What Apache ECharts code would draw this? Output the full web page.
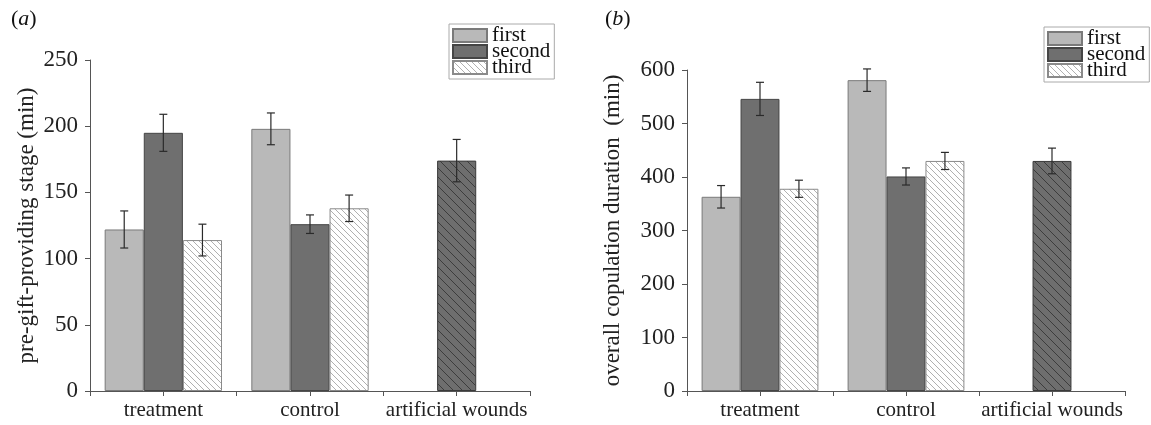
<!DOCTYPE html>
<html><head><meta charset="utf-8">
<script src="https://cdn.jsdelivr.net/npm/echarts@6/dist/echarts.min.js"></script>
<style>html,body{margin:0;padding:0;background:#fff}#c{width:1151px;height:425px}</style>
</head><body><div id="c"></div>
<script>
const categories = ['treatment', 'control', 'artificial wounds'];
const tickSlots = ['s0', 's1', 's2', 's3', 's4', 's5'];
const seriesNames = ['first', 'second', 'third'];
// panel (a): pre-gift-providing stage (min)
const aFirst = [122, 198, null];
const aSecond = [195, 126, 174];
const aThird = [114, 138, null];
const aFirstErr = [14, 12, null];
const aSecondErr = [14, 7, 16];
const aThirdErr = [12, 10, null];
// panel (b): overall copulation duration (min)
const bFirst = [363, 581, null];
const bSecond = [546, 401, 430];
const bThird = [378, 430, null];
const bFirstErr = [21, 21, null];
const bSecondErr = [31, 16, 24];
const bThirdErr = [16, 16, null];
const aTicks = [0, 250, 50];
const bTicks = [0, 600, 100];

const FONT = 'Liberation Serif';
function hatch(size, bg, fg, lw) {
  const cv = document.createElement('canvas');
  cv.width = size; cv.height = size;
  const g = cv.getContext('2d');
  g.fillStyle = bg; g.fillRect(0, 0, size, size);
  g.strokeStyle = fg; g.lineWidth = lw;
  for (const k of [-size, 0, size]) {
    g.beginPath(); g.moveTo(k, 0); g.lineTo(k + size, size); g.stroke();
  }
  return { image: cv, repeat: 'repeat' };
}
const lightHatch = hatch(6, '#ffffff', '#b0b0b0', 1);
const darkHatch = hatch(9, '#6e6e6e', '#3c3c3c', 1);

const styles = [
  { color: '#b9b9b9', borderColor: '#7a7a7a', borderWidth: 1 },
  { color: '#6f6f6f', borderColor: '#454545', borderWidth: 1 },
  { color: lightHatch, borderColor: '#8a8a8a', borderWidth: 1 }
];

function errData(vals, errs, s) {
  const out = [];
  vals.forEach((v, i) => { if (v != null && errs[i] != null) out.push([i, v - errs[i], v + errs[i], s]); });
  return out;
}
function renderErr(params, api) {
  const c = api.value(0), lo = api.value(1), hi = api.value(2), s = api.value(3);
  const band = api.size([1, 0])[0];
  const bw = band * 0.8 / 3;
  const x = api.coord([c, 0])[0] + (s - 1) * bw;
  const y1 = api.coord([c, lo])[1], y2 = api.coord([c, hi])[1];
  const st = { stroke: '#2a2a2a', lineWidth: 1.2 };
  const cap = 4;
  return { type: 'group', children: [
    { type: 'line', shape: { x1: x, y1: y1, x2: x, y2: y2 }, style: st },
    { type: 'line', shape: { x1: x - cap, y1: y1, x2: x + cap, y2: y1 }, style: st },
    { type: 'line', shape: { x1: x - cap, y1: y2, x2: x + cap, y2: y2 }, style: st }
  ]};
}
function panelSeries(gi, first, second, third, e1, e2, e3) {
  const secondData = second.map((v, i) => (i === 2 && v != null) ?
    { value: v, itemStyle: { color: darkHatch, borderColor: '#3a3a3a', borderWidth: 1 } } : v);
  const base = { type: 'bar', xAxisIndex: gi, yAxisIndex: gi, barGap: '0%', barCategoryGap: '20%' };
  return [
    Object.assign({}, base, { name: 'first', data: first, itemStyle: styles[0] }),
    Object.assign({}, base, { name: 'second', data: secondData, itemStyle: styles[1] }),
    Object.assign({}, base, { name: 'third', data: third, itemStyle: styles[2] }),
    { type: 'custom', xAxisIndex: gi, yAxisIndex: gi, renderItem: renderErr, z: 5,
      encode: { x: 0, y: [1, 2] },
      data: errData(first, e1, 0).concat(errData(second, e2, 1), errData(third, e3, 2)) },
    { type: 'line', xAxisIndex: gi + 2, yAxisIndex: gi, data: tickSlots.map(() => null), silent: true, symbol: 'none' }
  ];
}
const axisLineStyle = { color: '#555', width: 1 };
const labelStyle = { fontFamily: FONT, fontSize: 21, color: '#222' };
function xMain(gi) {
  return { type: 'category', gridIndex: gi, data: categories, boundaryGap: true, position: 'bottom',
    axisLine: { lineStyle: axisLineStyle },
    axisTick: { show: true, alignWithLabel: true, interval: 0, length: 5, lineStyle: axisLineStyle },
    axisLabel: Object.assign({ margin: 9, interval: 0 }, labelStyle) };
}
function xTicks(gi) {
  return { type: 'category', gridIndex: gi, data: tickSlots, boundaryGap: true, position: 'bottom', offset: 0,
    axisLine: { show: true, onZero: false, lineStyle: axisLineStyle },
    axisLabel: { show: false, interval: 0, fontSize: 1 },
    axisTick: { show: true, length: 5, interval: 0, alignWithLabel: false, lineStyle: axisLineStyle } };
}
function yAx(gi, t, name, gap) {
  return { type: 'value', gridIndex: gi, min: t[0], max: t[1], interval: t[2],
    name: name, nameLocation: 'middle', nameGap: gap,
    nameTextStyle: { fontFamily: FONT, fontSize: 23, color: '#222' },
    axisLine: { show: true, lineStyle: axisLineStyle },
    axisTick: { show: true, length: 5, lineStyle: axisLineStyle },
    axisLabel: Object.assign({}, labelStyle, { margin: 12, fontSize: 23 }),
    splitLine: { show: false } };
}
function legend(left, top) {
  return { orient: 'vertical', left: left, top: top, data: seriesNames,
    icon: 'rect', itemWidth: 34, itemHeight: 13, itemGap: -5,
    padding: [1, 4, 1, 3], borderColor: '#aaa', borderWidth: 1,
    textStyle: { fontFamily: FONT, fontSize: 21, color: '#111' },
    selectedMode: false };
}
const titleStyle = { fontFamily: FONT, fontSize: 22, fontWeight: 'normal', color: '#111',
  rich: { i: { fontFamily: FONT, fontSize: 22, fontStyle: 'italic', color: '#111' } } };
const chart = echarts.init(document.getElementById('c'), null, { renderer: 'canvas' });
chart.setOption({
  animation: false,
  title: [
    { text: '({i|a})', left: 6, top: 3, textStyle: titleStyle },
    { text: '({i|b})', left: 600, top: 3, textStyle: titleStyle }
  ],
  legend: [legend(449, 24), legend(1044, 27)],
  grid: [
    { left: 90, right: 621, top: 60, bottom: 34 },
    { left: 687, right: 26, top: 70, bottom: 34 }
  ],
  xAxis: [xMain(0), xMain(1), xTicks(0), xTicks(1)],
  yAxis: [yAx(0, aTicks, 'pre-gift-providing stage (min)', 52), yAx(1, bTicks, 'overall copulation duration  (min)', 63)],
  series: panelSeries(0, aFirst, aSecond, aThird, aFirstErr, aSecondErr, aThirdErr)
    .concat(panelSeries(1, bFirst, bSecond, bThird, bFirstErr, bSecondErr, bThirdErr))
});
</script></body></html>
